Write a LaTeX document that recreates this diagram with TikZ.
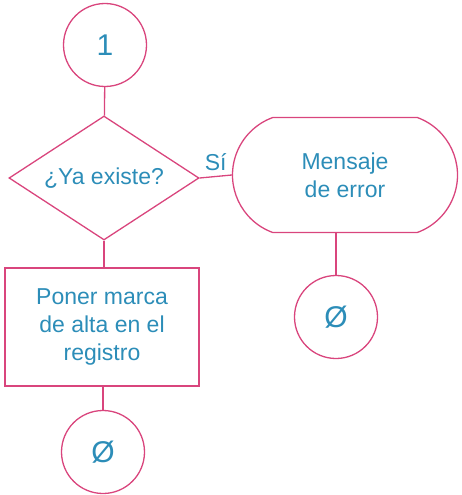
\documentclass[tikz,border=0pt]{standalone}
\usepackage{fontspec}
\setmainfont{Liberation Sans}
\usetikzlibrary{shapes.geometric,shapes.misc}
\definecolor{lnpink}{HTML}{D9457D}
\definecolor{txblue}{HTML}{2C8DB8}
\begin{document}
\begin{tikzpicture}[x=1pt,y=-1pt,
  every node/.style={text=txblue,font=\fontsize{23}{28}\selectfont,align=center,inner sep=0pt},
  shp/.style={draw=lnpink,line width=1.3pt},
  conn/.style={shp,circle,minimum size=83pt,font=\fontsize{30}{32}\selectfont},
  dec/.style={shp,diamond,aspect=2.5,minimum width=190pt,minimum height=124pt},
  term/.style={shp,rounded rectangle,rounded rectangle arc length=140,minimum width=225pt,minimum height=115pt},
  proc/.style={shp,rectangle,minimum width=194pt,minimum height=118pt},
  link/.style={draw=lnpink,line width=1.3pt}]
\useasboundingbox (0,0) rectangle (461,495);
\node[conn] (c1) at (105,45) {1};
\node[dec] (d) at (104,178) {¿Ya existe?};
\node[term] (m) at (345,175) {Mensaje\\de error};
\node[proc] (p) at (102,327) {Poner marca\\de alta en el\\registro};
\node[conn] (c2) at (336,317) {Ø};
\node[conn] (c3) at (103,452) {Ø};
\draw[link] (c1) -- (d);
\draw[link] (d.south) -- (p.north -| d.south);
\draw[link] (d.east) -- node[above=5pt] {Sí} (m.west);
\draw[link] (c2.north) -- (c2.north |- m.south);
\draw[link] (c3.north) -- (c3.north |- p.south);
\end{tikzpicture}
\end{document}
